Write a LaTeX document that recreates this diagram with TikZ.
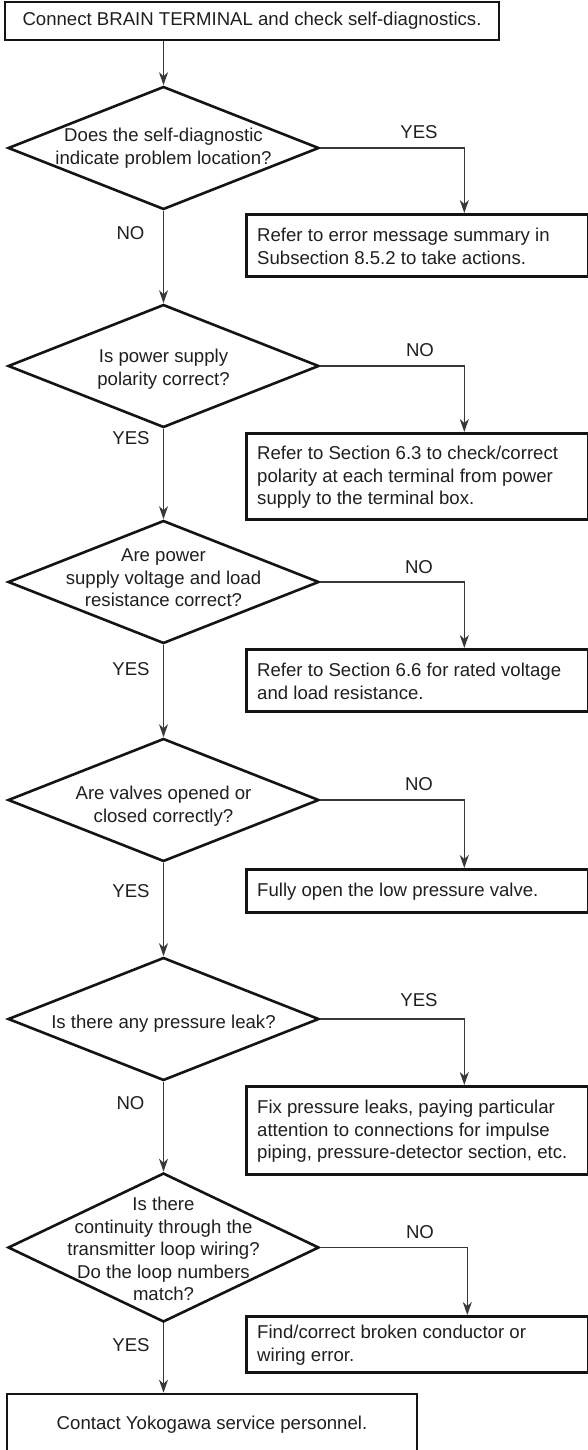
\documentclass[tikz,border=0pt]{standalone}
\usepackage{fontspec}
\setmainfont{Liberation Sans}
\usetikzlibrary{shapes.geometric,arrows.meta}
\begin{document}
\begin{tikzpicture}[x=1pt,y=-1pt,
  box/.style={draw=black!92, line width=2.6pt, rectangle, inner sep=0pt},
  dia/.style={draw=black!92, line width=2.6pt, diamond, inner sep=0pt,
    minimum width=311pt, minimum height=123pt},
  txt/.style={font=\fontsize{18.6}{22.4}\selectfont, text=black!88, inner sep=0pt, align=left},
  ctxt/.style={txt, align=center},
  lbl/.style={font=\fontsize{18.6}{22.4}\selectfont, text=black!88, inner sep=0pt},
  arr/.style={draw=black!78, line width=1.3pt, -{Stealth[length=13pt,width=9pt,inset=4pt]}},
]
\useasboundingbox (0,0) rectangle (588,1450);

% start box
\node[box, minimum width=494pt, minimum height=38pt, font=\fontsize{18.6}{22.4}\selectfont, text=black!88] (start) at (252,21) {Connect BRAIN TERMINAL and check self-diagnostics.};

% diamonds
\node[dia] (d1) at (163.5,148) {};
\node[ctxt] (d1t) at (163.5,148) {Does the self-diagnostic\\indicate problem location?};
\node[dia] (d2) at (163.5,366) {};
\node[ctxt] (d2t) at (163.5,369) {Is power supply\\polarity correct?};
\node[dia] (d3) at (163.5,582) {};
\node[ctxt] (d3t) at (163.5,578) {Are power\\supply voltage and load\\resistance correct?};
\node[dia] (d4) at (163.5,800) {};
\node[ctxt] (d4t) at (163.5,806) {Are valves opened or\\closed correctly?};
\node[dia] (d5) at (163.5,1019) {};
\node[ctxt] (d5t) at (163.5,1024) {Is there any pressure leak?};
\node[dia, minimum height=149pt] (d6) at (163.5,1247.5) {};
\node[ctxt] (d6t) at (163.5,1249) {Is there\\continuity through the\\transmitter loop wiring?\\Do the loop numbers\\match?};

% right boxes
\node[box, minimum width=342pt, minimum height=62pt, anchor=north west] (b2) at (245,213) {};
\node[txt, anchor=west] (b2t) at ([xshift=12pt,yshift=-1pt]b2.west) {Refer to error message summary in\\Subsection 8.5.2 to take actions.};
\node[box, minimum width=342pt, minimum height=86pt, anchor=north west] (b3) at (245,432) {};
\node[txt, anchor=west] (b3t) at ([xshift=12pt,yshift=-1pt]b3.west) {Refer to Section 6.3 to check/correct\\polarity at each terminal from power\\supply to the terminal box.};
\node[box, minimum width=342pt, minimum height=62pt, anchor=north west] (b4) at (245,648) {};
\node[txt, anchor=west] (b4t) at ([xshift=12pt,yshift=-1pt]b4.west) {Refer to Section 6.6 for rated voltage\\and load resistance.};
\node[box, minimum width=342pt, minimum height=43pt, anchor=north west] (b5) at (245,868) {};
\node[txt, anchor=west] (b5t) at ([xshift=12pt,yshift=-1pt]b5.west) {Fully open the low pressure valve.};
\node[box, minimum width=342pt, minimum height=88pt, anchor=north west] (b6) at (245,1085) {};
\node[txt, anchor=west] (b6t) at ([xshift=12pt,yshift=-1pt]b6.west) {Fix pressure leaks, paying particular\\attention to connections for impulse\\piping, pressure-detector section, etc.};
\node[box, minimum width=342pt, minimum height=56pt, anchor=north west] (b7) at (245,1315) {};
\node[txt, anchor=west] (b7t) at ([xshift=12pt,yshift=-1pt]b7.west) {Find/correct broken conductor or\\wiring error.};

% final box
\node[box, minimum width=410pt, minimum height=62pt, font=\fontsize{18.6}{22.4}\selectfont, text=black!88] (end) at (212,1425) {Contact Yokogawa service personnel.};

% main column connectors
\draw[arr] (start.south -| d1.north) -- (d1.north);
\draw[arr] (d1.south) -- (d2.north);
\draw[arr] (d2.south) -- (d3.north);
\draw[arr] (d3.south) -- (d4.north);
\draw[arr] (d4.south) -- (d5.north);
\draw[arr] (d5.south) -- (d6.north);
\draw[arr] (d6.south) -- (d6.south |- end.north);

% side connectors
\draw[arr] (d1.east) -| ([xshift=47pt]b2.north);
\draw[arr] (d2.east) -| ([xshift=47pt]b3.north);
\draw[arr] (d3.east) -| ([xshift=47pt]b4.north);
\draw[arr] (d4.east) -| ([xshift=47pt]b5.north);
\draw[arr] (d5.east) -| ([xshift=47pt]b6.north);
\draw[arr] (d6.east) -| ([xshift=50pt]b7.north);

% labels
\node[lbl] (l1y) at (419,132) {YES};
\node[lbl] (l1n) at (130.5,233) {NO};
\node[lbl] (l2n) at (420,350) {NO};
\node[lbl] (l2y) at (131,438) {YES};
\node[lbl] (l3n) at (419,567) {NO};
\node[lbl] (l3y) at (131,669) {YES};
\node[lbl] (l4n) at (419,784) {NO};
\node[lbl] (l4y) at (131,891) {YES};
\node[lbl] (l5y) at (419,1000) {YES};
\node[lbl] (l5n) at (130.5,1103) {NO};
\node[lbl] (l6n) at (420,1232) {NO};
\node[lbl] (l6y) at (131,1345) {YES};
\end{tikzpicture}
\end{document}
